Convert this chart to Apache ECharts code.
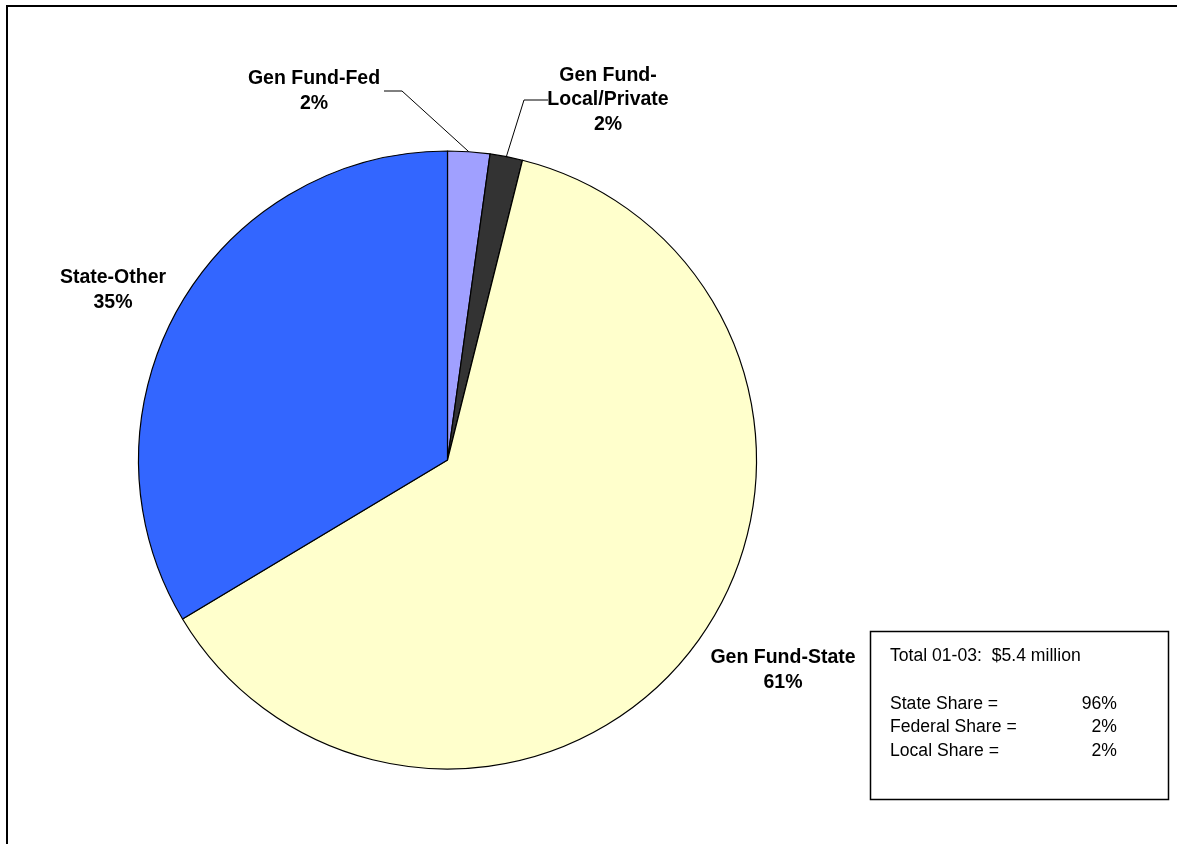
<!DOCTYPE html>
<html>
<head>
<meta charset="utf-8">
<script src="https://cdn.jsdelivr.net/npm/echarts@6/dist/echarts.min.js"></script>
<style>
html,body{margin:0;padding:0;background:#fff;}
#c{width:1177px;height:844px;}
</style>
</head>
<body>
<div id="c"></div>
<script>
// Data
const categories = ['Gen Fund-Fed', 'Gen Fund-\nLocal/Private', 'Gen Fund-State', 'State-Other'];
const values = [2.2, 1.7, 62.5, 33.6];
const labelPercents = ['2%', '2%', '61%', '35%'];
const colors = ['#A0A0FF', '#333333', '#FFFFCC', '#3366FF'];
const boxTitle = 'Total 01-03:  $5.4 million';
const shareNames = ['State Share =', 'Federal Share =', 'Local Share ='];
const shareValues = ['96%', '2%', '2%'];

const chart = echarts.init(document.getElementById('c'), null, {renderer: 'canvas'});

// label placement (layout only)
const labelPos = [
  {x: 314, y: 91, line: [[402, 91], [384, 91]]},
  {x: 608, y: 100, line: [[524, 100], [548, 100]]},
  {x: 783, y: 670, line: null},
  {x: 113, y: 290, line: null}
];

const boxFont = '"Liberation Sans", Arial, sans-serif';
const graphics = [
  {type: 'rect', shape: {x: 7, y: 6, width: 1200, height: 900}, style: {fill: 'none', stroke: '#000', lineWidth: 2}, silent: true},
  {type: 'rect', shape: {x: 870.5, y: 631.5, width: 298, height: 168}, style: {fill: '#fff', stroke: '#000', lineWidth: 1.5}},
  {type: 'text', x: 890, y: 656, style: {text: boxTitle, font: '17.6px ' + boxFont, fill: '#000', textVerticalAlign: 'middle'}}
];
shareNames.forEach(function (n, i) {
  graphics.push({type: 'text', x: 890, y: 704 + i * 23.5, style: {text: n, font: '17.6px ' + boxFont, fill: '#000', textVerticalAlign: 'middle'}});
  graphics.push({type: 'text', x: 1117, y: 704 + i * 23.5, style: {text: shareValues[i], font: '17.6px ' + boxFont, fill: '#000', textAlign: 'right', textVerticalAlign: 'middle'}});
});

chart.setOption({
  backgroundColor: '#fff',
  animation: false,
  color: colors,
  graphic: graphics,
  series: [{
    type: 'pie',
    center: [447.5, 460],
    radius: [0, 309],
    startAngle: 90,
    clockwise: true,
    avoidLabelOverlap: false,
    itemStyle: {borderColor: '#000', borderWidth: 1.2},
    label: {
      show: true,
      position: 'outside',
      formatter: function (p) { return p.name + '\n' + labelPercents[p.dataIndex]; },
      fontFamily: '"Liberation Sans", Arial, sans-serif',
      fontWeight: 'bold',
      fontSize: 19.5,
      lineHeight: 24.5,
      color: '#000',
      align: 'center'
    },
    labelLine: {show: true, lineStyle: {color: '#000', width: 1}},
    labelLayout: function (params) {
      const lp = labelPos[params.dataIndex];
      const res = {x: lp.x, y: lp.y, align: 'center', verticalAlign: 'middle'};
      if (lp.line && params.labelLinePoints) {
        res.labelLinePoints = [params.labelLinePoints[0], lp.line[0], lp.line[1]];
      }
      return res;
    },
    emphasis: {disabled: true},
    data: categories.map(function (c, i) {
      const d = {name: c, value: values[i]};
      if (!labelPos[i].line) d.labelLine = {show: false};
      return d;
    })
  }]
});
</script>
</body>
</html>
